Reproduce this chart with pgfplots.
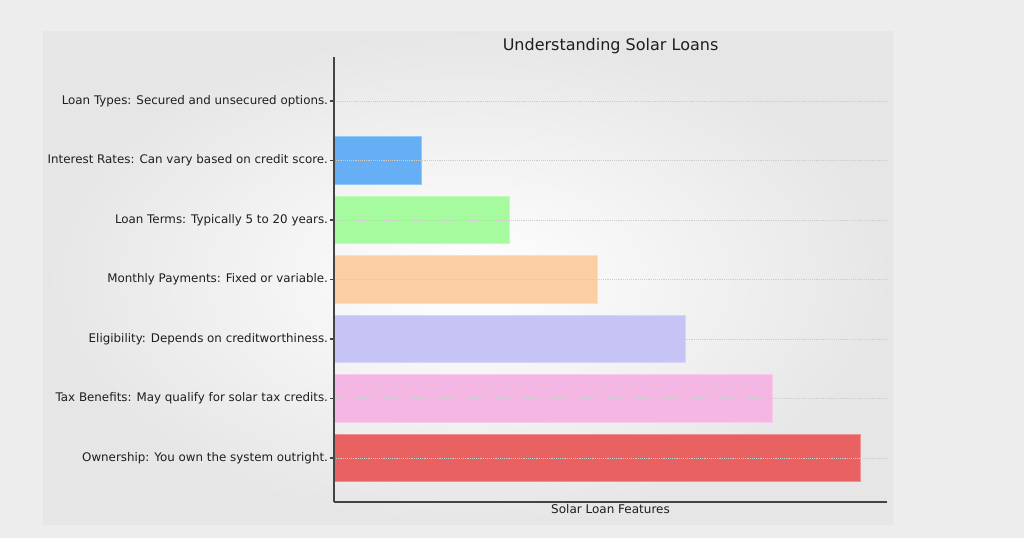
\documentclass[border=0pt]{standalone}
\usepackage{pgfplots}
\pgfplotsset{compat=1.18}
\usepackage{fontspec}
\setmainfont{DejaVu Sans}
\definecolor{bgout}{HTML}{EDEDED}
\definecolor{panelgray}{HTML}{E6E6E6}
\definecolor{cblue}{HTML}{66AFF5}
\definecolor{cgreen}{HTML}{A6FB9E}
\definecolor{corange}{HTML}{FBCFA3}
\definecolor{cpurple}{HTML}{C6C4F4}
\definecolor{cpink}{HTML}{F4B6E2}
\definecolor{cred}{HTML}{E86262}
\definecolor{spine}{HTML}{444444}
\definecolor{txt}{HTML}{1E1E1E}
\begin{document}
\begin{tikzpicture}
\begin{axis}[
  scale only axis, width=414.75pt, height=333.75pt,
  clip=false,
  xmin=0, xmax=6.3, ymin=-0.74, ymax=6.74,
  xbar, bar width=0.8, bar shift=0pt,
  axis x line*=bottom, axis y line*=left,
  axis line style={spine, line width=0.9pt},
  xtick=\empty,
  ytick={0,1,2,3,4,5,6},
  yticklabels={Ownership: You own the system outright.,
    Tax Benefits: May qualify for solar tax credits.,
    Eligibility: Depends on creditworthiness.,
    Monthly Payments: Fixed or variable.,
    Loan Terms: Typically 5 to 20 years.,
    Interest Rates: Can vary based on credit score.,
    Loan Types: Secured and unsecured options.},
  yticklabel style={font=\fontsize{8.9}{11}\selectfont, text=txt, xshift=2pt},
  major tick length=3pt,
  tick style={spine, line width=0.8pt},
  y axis line style={-}, x axis line style={-},
  ymajorgrids, grid style={densely dotted, gray!40, line width=0.5pt},
  xlabel={Solar Loan Features},
  xlabel style={font=\fontsize{9}{11}\selectfont, text=txt, yshift=1.5pt},
  title={Understanding Solar Loans},
  title style={font=\fontsize{12}{14}\selectfont, text=txt, yshift=-7pt},
  axis on top,
]
\fill[bgout] (rel axis cs:-0.6040,-0.0809) rectangle (rel axis cs:1.2477,1.1281);
\shade[inner color=white, outer color=panelgray] (rel axis cs:-0.5262,-0.0494) rectangle (rel axis cs:1.0108,1.0584);
\addplot[fill=cred, draw=cred!70!white, line width=0.8pt] coordinates {(6,0)};
\addplot[fill=cpink, draw=cpink!70!white, line width=0.8pt] coordinates {(5,1)};
\addplot[fill=cpurple, draw=cpurple!70!white, line width=0.8pt] coordinates {(4,2)};
\addplot[fill=corange, draw=corange!70!white, line width=0.8pt] coordinates {(3,3)};
\addplot[fill=cgreen, draw=cgreen!70!white, line width=0.8pt] coordinates {(2,4)};
\addplot[fill=cblue, draw=cblue!70!white, line width=0.8pt] coordinates {(1,5)};
\addplot[fill=cblue, draw=none] coordinates {(0,6)};
\end{axis}
\end{tikzpicture}
\end{document}
